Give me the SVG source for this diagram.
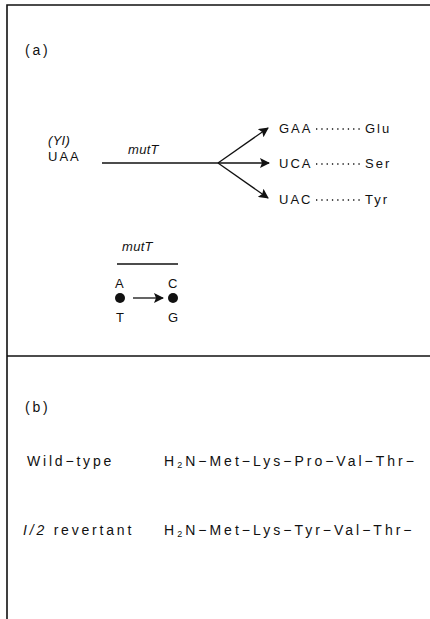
<svg xmlns="http://www.w3.org/2000/svg" width="430" height="619" viewBox="0 0 430 619">
<style>
text{font-family:"Liberation Sans",Arial,sans-serif;font-size:13px;fill:#111;letter-spacing:2px}
.it{font-style:italic;letter-spacing:0.3px}
.b{font-size:14px;letter-spacing:2.8px}
.pep{font-size:14px;letter-spacing:3px}
.frame{stroke:#111;stroke-width:1.6;fill:none}
.ln{stroke:#111;stroke-width:1.3;fill:none}
.dot{stroke:#111;stroke-width:1.3;fill:none;stroke-dasharray:1.3 4}
</style>
<defs>
<marker id="ah" viewBox="0 0 10 10" refX="9" refY="5" markerWidth="10" markerHeight="10" markerUnits="userSpaceOnUse" orient="auto">
<path d="M0,0 L10,5 L0,10 L2,5 Z" fill="#111"/>
</marker>
</defs>
<g id="frame">
<path class="frame" d="M430,5 H7 V619"/>
<line class="frame" x1="7" y1="356" x2="430" y2="356"/>
</g>
<g id="label-a"><text class="b" x="25" y="55">(a)</text></g>
<g id="source"><text class="it" x="48" y="145" letter-spacing="1.5">(YI)</text><text x="48" y="161">UAA</text></g>
<g id="mutT-label"><text class="it" x="128" y="154">mutT</text></g>
<g id="branch-glu"><text x="279" y="133">GAA</text><line class="dot" x1="316" y1="129" x2="360" y2="129"/><text x="365" y="133">Glu</text></g>
<g id="branch-ser"><text x="279" y="168">UCA</text><line class="dot" x1="316" y1="164" x2="360" y2="164"/><text x="365" y="168">Ser</text></g>
<g id="branch-tyr"><text x="279" y="204">UAC</text><line class="dot" x1="316" y1="200" x2="360" y2="200"/><text x="365" y="204">Tyr</text></g>
<g id="connectors">
<line class="ln" x1="102" y1="163" x2="218" y2="163"/>
<line class="ln" x1="218" y1="163" x2="268" y2="128" marker-end="url(#ah)"/>
<line class="ln" x1="218" y1="163" x2="269" y2="163" marker-end="url(#ah)"/>
<line class="ln" x1="218" y1="163" x2="268" y2="198" marker-end="url(#ah)"/>
<line class="ln" x1="133" y1="298" x2="163" y2="298" marker-end="url(#ah)"/>
</g>
<g id="pair-scheme">
<text class="it" x="122" y="251">mutT</text>
<line class="ln" x1="117" y1="264" x2="178" y2="264"/>
<text x="115" y="288">A</text><text x="168" y="288">C</text>
<circle cx="120" cy="298" r="5" fill="#111"/>
<circle cx="173" cy="298" r="5" fill="#111"/>
<text x="116" y="322">T</text><text x="168" y="322">G</text>
</g>
<g id="label-b"><text class="b" x="25" y="412">(b)</text></g>
<g id="wild"><text class="b" x="27" y="466">Wild−type</text><text class="pep" x="164" y="466">H<tspan font-size="9" dy="2">2</tspan><tspan dy="-2">N−Met−Lys−Pro−Val−Thr−</tspan></text></g>
<g id="revertant"><text class="b" x="23" y="535"><tspan font-style="italic">I/2</tspan> revertant</text><text class="pep" x="164" y="535">H<tspan font-size="9" dy="2">2</tspan><tspan dy="-2">N−Met−Lys−Tyr−Val−Thr−</tspan></text></g>
</svg>
